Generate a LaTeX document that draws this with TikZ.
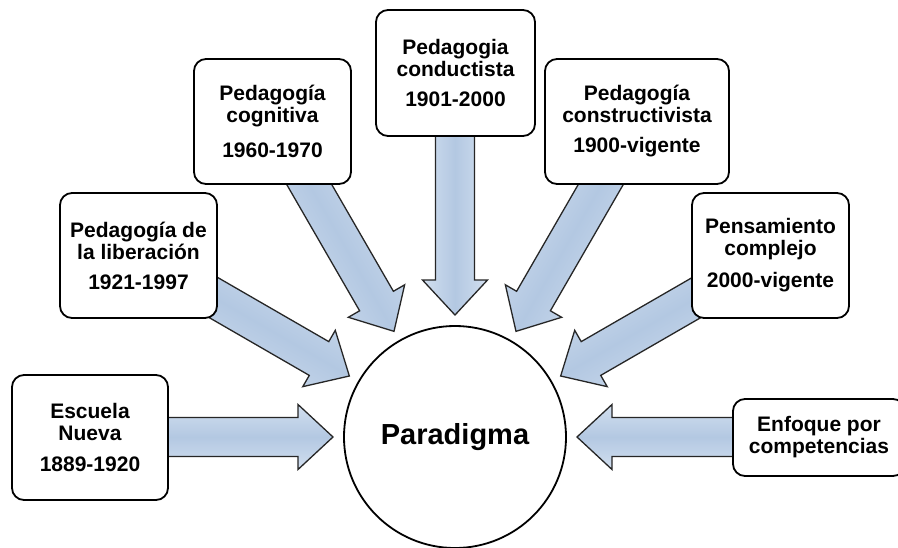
\documentclass[tikz,border=0pt]{standalone}
\usepackage{fontspec}
\setmainfont{Liberation Sans}
\usetikzlibrary{calc}
\definecolor{arrmid}{HTML}{B3C8E2}
\definecolor{arredge}{HTML}{D2DFEF}
\tikzset{
  box/.style={draw=black, line width=1.8pt, rounded corners=12pt, fill=white,
    align=center, inner sep=0pt, text=black,
    font=\fontsize{21}{22}\selectfont\bfseries},
  fatarrow/.style={draw=black!85, line width=1.3pt, line join=miter,
    top color=arredge, bottom color=arredge, middle color=arrmid},
  hub/.style={draw=black, line width=1.8pt, circle, fill=white, minimum size=222pt,
    inner sep=0pt, font=\fontsize{29}{30}\selectfont\bfseries}
}
\begin{document}
\begin{tikzpicture}[x=1pt,y=-1pt]
\clip (0,0) rectangle (898,547);
\useasboundingbox (0,0) rectangle (898,547);
\fill[white] (0,0) rectangle (898,547);
\node[hub] (c) at (455,437) {Paradigma};
% arrows pointing to the hub
\foreach \a in {180,150,120,90,60,30,0}{
  \path[fatarrow, shading angle=\a]
    ($(c)+(-\a:122)$)
    -- ($(c)+(-\a:157)+(-\a+90:32.5)$)
    -- ($(c)+(-\a:157)+(-\a+90:19.5)$)
    -- ($(c)+(-\a:330)+(-\a+90:19.5)$)
    -- ($(c)+(-\a:330)+(-\a-90:19.5)$)
    -- ($(c)+(-\a:157)+(-\a-90:19.5)$)
    -- ($(c)+(-\a:157)+(-\a-90:32.5)$)
    -- cycle;
}
\node[box, minimum width=156pt, minimum height=125pt] (esc) at (90,437.5)
  {Escuela\\Nueva\\[9pt]1889-1920};
\node[box, minimum width=157pt, minimum height=125pt] (lib) at (138.5,255.5)
  {Pedagogía de\\la liberación\\[8pt]1921-1997};
\node[box, minimum width=157pt, minimum height=125pt] (cog) at (272.5,121.5)
  {Pedagogía\\cognitiva\\[13pt]1960-1970};
\node[box, minimum width=159pt, minimum height=126pt] (cond) at (455.5,73)
  {Pedagogia\\conductista\\[8pt]1901-2000};
\node[box, minimum width=184pt, minimum height=125pt] (cons) at (637,121.5)
  {Pedagogía\\constructivista\\[8pt]1900-vigente};
\node[box, minimum width=157pt, minimum height=125pt] (pens) at (770.5,255.5)
  {Pensamiento\\complejo\\[10pt]2000-vigente};
\node[box, minimum width=172pt, minimum height=77pt] (enf) at (819,437.5)
  {Enfoque por\\competencias};
\end{tikzpicture}
\end{document}
